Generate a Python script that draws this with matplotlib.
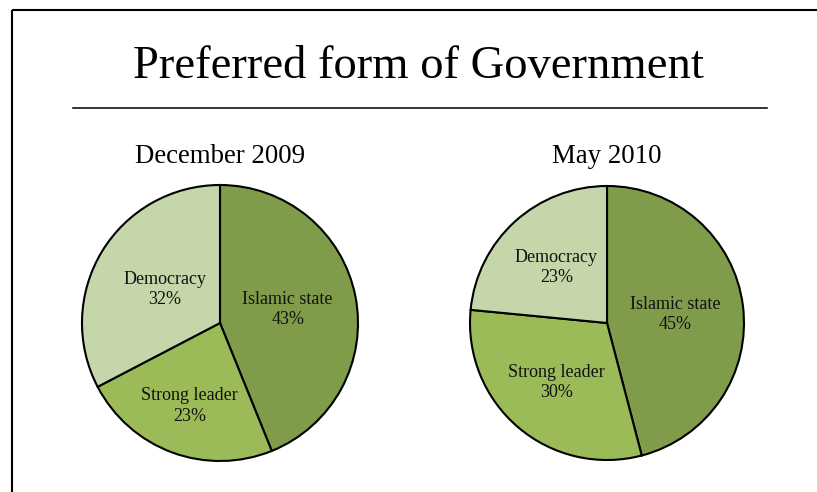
import numpy as np
import matplotlib
matplotlib.use("Agg")
import matplotlib.pyplot as plt
from matplotlib.lines import Line2D

title = "Preferred form of Government"
categories = ["Islamic state", "Strong leader", "Democracy"]
periods = ["December 2009", "May 2010"]
values_dec2009 = [43, 23, 32]
values_may2010 = [45, 30, 23]
colors = ["#7F9C4A", "#9BBB59", "#C4D6AA"]

W, H = 817, 492
fig = plt.figure(figsize=(W / 100, H / 100), dpi=100)
fig.patch.set_facecolor("white")
serif = "Liberation Serif"

def px_axes(cx, cy, r):
    return fig.add_axes([(cx - r) / W, (H - cy - r) / H, 2 * r / W, 2 * r / H])

# frame lines (left & top) and title rule
fig.add_artist(Line2D([12 / W, 12 / W], [0, 1 - 9.5 / H], color="black", lw=1.5,
                      transform=fig.transFigure, solid_capstyle="butt"))
fig.add_artist(Line2D([12 / W, 1], [1 - 9.5 / H, 1 - 9.5 / H], color="black", lw=1.5,
                      transform=fig.transFigure, solid_capstyle="butt"))
fig.add_artist(Line2D([73 / W, 767 / W], [1 - 108 / H, 1 - 108 / H], color="#111111", lw=1.2,
                      transform=fig.transFigure))

fig.text(418 / W, 1 - 78 / H, title, ha="center", va="baseline",
         fontsize=33.6, family=serif, color="black")

label_dists = [[0.50, 0.64, 0.47], [0.50, 0.57, 0.55]]
geom = [(220, 323, 138), (607, 323, 137)]
for k, (vals, period) in enumerate([(values_dec2009, periods[0]), (values_may2010, periods[1])]):
    cx, cy, r = geom[k]
    ax = px_axes(cx, cy, r)
    wedges, _ = ax.pie(vals, colors=colors, startangle=90, counterclock=False,
                       wedgeprops=dict(edgecolor="black", linewidth=1.5))
    ax.set_xlim(-1, 1)
    ax.set_ylim(-1, 1)
    ax.set_aspect("equal")
    ax.axis("off")
    for w, cat, v, d in zip(wedges, categories, vals, label_dists[k]):
        ang = np.deg2rad((w.theta1 + w.theta2) / 2)
        ax.text(d * np.cos(ang), d * np.sin(ang), f"{cat}\n{v}%", ha="center", va="center",
                fontsize=13, family=serif, color="#111111", linespacing=1.25)
    fig.text(cx / W, 1 - 163 / H, period, ha="center", va="baseline",
             fontsize=19.4, family=serif, color="black")

fig.savefig("out.png", dpi=100, facecolor="white")
